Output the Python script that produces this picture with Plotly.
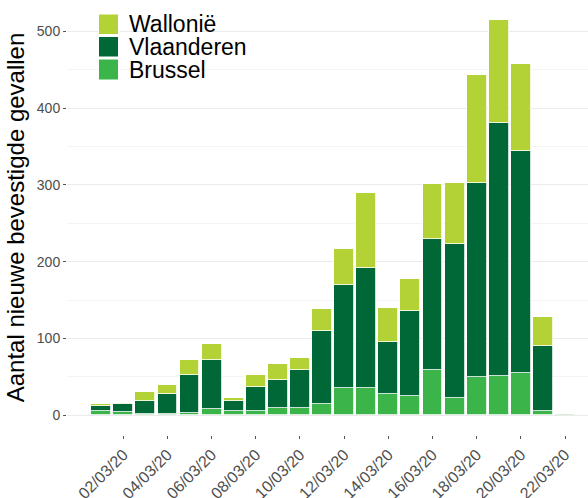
import plotly.graph_objects as go

dates = ["2020-03-%02d" % d for d in range(1, 23)]
brussel    = [6, 4, 2, 2, 3, 8, 5, 5, 10, 10, 15, 36, 36, 27, 25, 59, 23, 50, 51, 55, 5, 1]
vlaanderen = [6, 11, 17, 26, 50, 64, 14, 32, 36, 49, 95, 134, 156, 69, 111, 171, 200, 252, 329, 289, 85, 0]
wallonie   = [2, 1, 11, 11, 19, 21, 3, 16, 21, 16, 28, 46, 97, 43, 41, 71, 80, 141, 135, 113, 38, 0]
tick_dates = ["2020-03-%02d" % d for d in range(2, 23, 2)]
y_ticks = [0, 100, 200, 300, 400, 500]

series = [("Brussel", brussel, "#3bb54a"),
          ("Vlaanderen", vlaanderen, "#006837"),
          ("Wallonië", wallonie, "#b3d235")]

DAY = 86400000
fig = go.Figure()
for name, vals, col in series:
    fig.add_trace(go.Bar(x=dates, y=vals, name=name, width=0.9 * DAY,
                         marker=dict(color=col, line=dict(color="white", width=0.8)),
                         showlegend=False))

W, H = 588, 498
ml, mr, mt, mb = 67, 0, 0, 63
pw, ph = W - ml - mr, H - mt - mb

def px(x):
    return (x - ml) / pw

def py(y):
    return 1 - (y - mt) / ph

font = "Liberation Sans, Arial, sans-serif"
shapes = []
annotations = []
legend_items = [("Wallonië", "#b3d235", 14, 34.5),
                ("Vlaanderen", "#006837", 36.5, 57),
                ("Brussel", "#3bb54a", 59, 80)]
for name, col, y0, y1 in legend_items:
    shapes.append(dict(type="rect", xref="paper", yref="paper",
                       x0=px(98.5), x1=px(118.5), y0=py(y1), y1=py(y0),
                       fillcolor=col, line=dict(color="white", width=1)))
    annotations.append(dict(text=name, xref="paper", yref="paper",
                            x=px(127), y=py((y0 + y1) / 2), xanchor="left", yanchor="middle",
                            showarrow=False, font=dict(size=23, color="black", family=font)))

fig.update_layout(
    width=W, height=H,
    margin=dict(l=ml, r=mr, t=mt, b=mb, autoexpand=False),
    barmode="stack",
    plot_bgcolor="white", paper_bgcolor="white",
    bargap=0,
    shapes=shapes, annotations=annotations,
    font=dict(family=font),
    xaxis=dict(type="date", range=["2020-02-28 10:49", "2020-03-23 01:00"],
               tickvals=tick_dates, tickformat="%d/%m/%y",
               tickangle=-45, showgrid=False, zeroline=False,
               ticks="outside", ticklen=3, tickcolor="#555", tickwidth=1,
               tickfont=dict(size=16, color="#4d4d4d", family=font), automargin=False),
    yaxis=dict(range=[-25.75, 540.75], tickvals=y_ticks,
               showgrid=True, gridcolor="#ebebeb", gridwidth=1, zeroline=False,
               minor=dict(dtick=50, tick0=0, showgrid=True, gridcolor="#f4f4f4", gridwidth=1),
               ticks="outside", ticklen=3, tickcolor="#555", tickwidth=1,
               tickfont=dict(size=14, color="#4d4d4d", family=font),
               title=dict(text="Aantal nieuwe bevestigde gevallen", standoff=5,
                          font=dict(size=24, color="black", family=font)),
               automargin=False),
)

fig.write_html("out.html", config={"displayModeBar": False},
               post_script="document.body.style.margin='0';document.body.style.padding='0';")
